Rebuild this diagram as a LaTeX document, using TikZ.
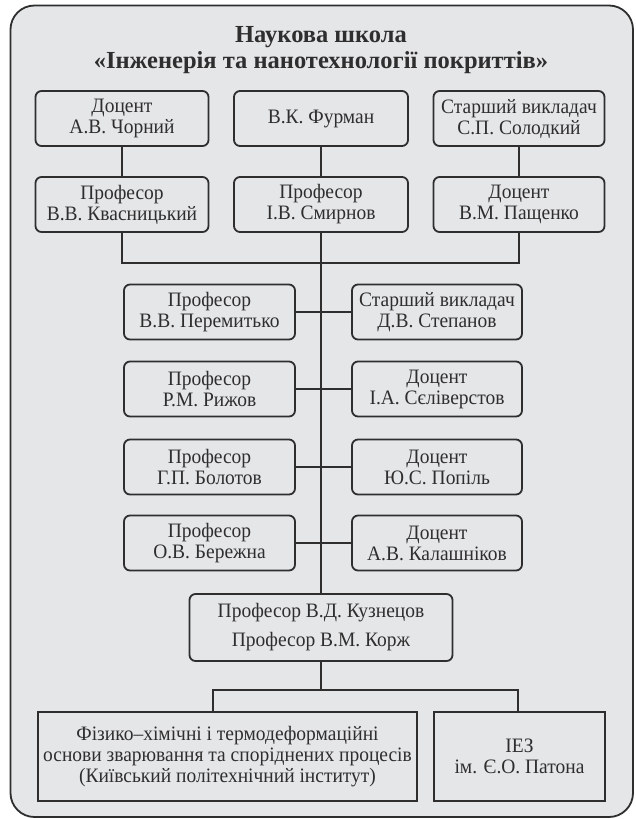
\documentclass[tikz,border=0pt]{standalone}
\usepackage{fontspec}
\setmainfont{Liberation Serif}
\newfontfamily\boxfont[FakeStretch=0.95]{Liberation Serif}
\definecolor{bgfill}{HTML}{E5E6E8}
\definecolor{ink}{HTML}{2E2E2E}
\begin{document}
\begin{tikzpicture}[x=1pt,y=-1pt,
  box/.style={draw=ink,line width=1.8pt,fill=bgfill,rounded corners=6pt,
    inner sep=0pt,align=center,font=\boxfont\fontsize{20.5pt}{21pt}\selectfont,text=ink},
  sqbox/.style={box,rounded corners=0pt},
  link/.style={draw=ink,line width=1.8pt}]
\useasboundingbox (0,0) rectangle (636,819);
\fill[white] (0,0) rectangle (636,819);
\draw[draw=ink,line width=1.8pt,fill=bgfill,rounded corners=24pt] (10.5,5.5) rectangle (633,817);
\node[align=center,text=ink,font=\fontsize{24.5pt}{25.5pt}\selectfont\bfseries] (title) at (321,50)
  {Наукова школа\\«Інженерія та нанотехнології покриттів»};
% row 1
\node[box,minimum width=173pt,minimum height=55pt] (a1) at (122,118.5) {Доцент\\А.В. Чорний};
\node[box,minimum width=174pt,minimum height=55pt] (a2) at (321,118.5) {В.К. Фурман};
\node[box,minimum width=171pt,minimum height=55pt] (a3) at (519,118.5) {Старший викладач\\С.П. Солодкий};
% row 2
\node[box,minimum width=173pt,minimum height=55pt] (b1) at (122,204.5) {Професор\\В.В. Квасницький};
\node[box,minimum width=174pt,minimum height=55pt] (b2) at (321,204.5) {Професор\\І.В. Смирнов};
\node[box,minimum width=171pt,minimum height=55pt] (b3) at (519,204.5) {Доцент\\В.М. Пащенко};
% rows 3-6
\node[box,minimum width=171pt,minimum height=55pt] (l3) at (209.5,312) {Професор\\В.В. Перемитько};
\node[box,minimum width=170pt,minimum height=55pt] (r3) at (437,312) {Старший викладач\\Д.В. Степанов};
\node[box,minimum width=171pt,minimum height=55pt] (l4) at (209.5,389) {Професор\\Р.М. Рижов};
\node[box,minimum width=170pt,minimum height=55pt] (r4) at (437,389) {Доцент\\І.А. Сєліверстов};
\node[box,minimum width=171pt,minimum height=55pt] (l5) at (209.5,467) {Професор\\Г.П. Болотов};
\node[box,minimum width=170pt,minimum height=55pt] (r5) at (437,467) {Доцент\\Ю.С. Попіль};
\node[box,minimum width=171pt,minimum height=55pt] (l6) at (209.5,543) {Професор\\О.В. Бережна};
\node[box,minimum width=170pt,minimum height=55pt] (r6) at (437,543) {Доцент\\А.В. Калашніков};
% Kuznetsov / Korzh
\node[box,minimum width=263pt,minimum height=67pt,font=\boxfont\fontsize{20.5pt}{29pt}\selectfont] (kz) at (321,627.5)
  {Професор В.Д. Кузнецов\\Професор В.М. Корж};
% bottom boxes
\node[sqbox,minimum width=379pt,minimum height=89pt] (bl) at (227.5,756.5)
  {Фізико–хімічні і термодеформаційні\\основи зварювання та споріднених процесів\\(Київський політехнічний інститут)};
\node[sqbox,minimum width=171pt,minimum height=89pt] (iez) at (519.5,756.5) {ІЕЗ\\ім. Є.О. Патона};
% connectors
\coordinate (hb) at (321,263);
\coordinate (barL) at (213,690);
\coordinate (barR) at (518,690);
\draw[link] (a1.south) -- (b1.north);
\draw[link] (a2.south) -- (b2.north);
\draw[link] (a3.south) -- (b3.north);
\draw[link] (b1.south) -- (b1.south |- hb) -- (b3.south |- hb) -- (b3.south);
\draw[link] (b2.south) -- (kz.north);
\draw[link] (l3.east) -- (r3.west);
\draw[link] (l4.east) -- (r4.west);
\draw[link] (l5.east) -- (r5.west);
\draw[link] (l6.east) -- (r6.west);
\draw[link] (kz.south) -- (kz.south |- barL);
\draw[link] (barL |- bl.north) -- (barL) -- (barR) -- (barR |- iez.north);
\end{tikzpicture}
\end{document}
